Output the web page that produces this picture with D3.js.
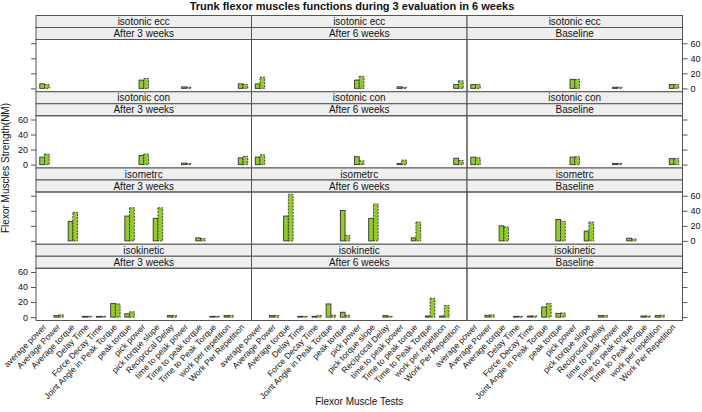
<!DOCTYPE html>
<html>
<head>
<meta charset="utf-8">
<script src="https://cdn.jsdelivr.net/npm/d3@7"></script>
<style>
  body { margin: 0; background: #fff; }
  text { font-family: "Liberation Sans", Arial, sans-serif; fill: #111; }
</style>
</head>
<body>
<div id="chart"></div>
<script>
const CATEGORIES = [
  "average power",
  "Average Power",
  "Average torque",
  "Delay Time",
  "Force Decay Time",
  "Joint Angle in Peak Torque",
  "peak torque",
  "pick power",
  "pick torque slope",
  "Reciprocal Delay",
  "time to peak power",
  "Time to peak torque",
  "Time to Peak Torque",
  "work per repetition",
  "Work Per Repetition",
];
const MEASURES = ["isotonic ecc", "isotonic con", "isometrc", "isokinetic"];
const TIMES = ["After 3 weeks", "After 6 weeks", "Baseline"];
const GROUPS = ["first", "second"];
const Y_TICKS = [0, 20, 40, 60];

// [test, first group, second group]
const eccAfter3 = [["average power", 6, 5], ["pick power", 11, 13], ["time to peak power", 2, 1.5], ["Work Per Repetition", 6, 5]];
const eccAfter6 = [["average power", 6, 15], ["pick power", 11, 16], ["time to peak power", 2, 1.5], ["Work Per Repetition", 5, 10]];
const eccBaseline = [["average power", 5, 5], ["pick power", 12, 12], ["time to peak power", 1.5, 1.5], ["Work Per Repetition", 5, 5]];

const conAfter3 = [["average power", 10, 14], ["pick power", 12, 14], ["time to peak power", 2, 1.5], ["Work Per Repetition", 9, 11]];
const conAfter6 = [["average power", 10, 13], ["pick power", 10.5, 5], ["time to peak power", 1.5, 6], ["Work Per Repetition", 8.5, 5.5]];
const conBaseline = [["average power", 10, 9], ["pick power", 10, 10.5], ["time to peak power", 1.5, 1.5], ["Work Per Repetition", 8, 8]];

const isoAfter3 = [["Average torque", 26, 38], ["peak torque", 33, 44], ["pick torque slope", 30, 44], ["Time to peak torque", 4, 3]];
const isoAfter6 = [["Average torque", 33, 62], ["peak torque", 40.5, 7], ["pick torque slope", 30, 49], ["Time to peak torque", 4, 25]];
const isoBaseline = [["Average torque", 20, 18.5], ["peak torque", 28.5, 26], ["pick torque slope", 13, 25], ["Time to peak torque", 3.5, 2.5]];

const kinAfter3 = [["Average Power", 2, 3], ["Delay Time", 1, 1], ["Force Decay Time", 1, 1], ["Joint Angle in Peak Torque", 18, 17.5], ["peak torque", 4.5, 7], ["Reciprocal Delay", 2, 2], ["Time to Peak Torque", 1, 1], ["work per repetition", 2, 2]];
const kinAfter6 = [["Average Power", 2, 2], ["Delay Time", 1, 1], ["Force Decay Time", 1, 2], ["Joint Angle in Peak Torque", 17.5, 2.5], ["peak torque", 6.5, 2.5], ["Reciprocal Delay", 2, 1], ["Time to Peak Torque", 1.5, 25], ["work per repetition", 1.5, 15.5]];
const kinBaseline = [["Average Power", 2.5, 3], ["Delay Time", 1, 1], ["Force Decay Time", 1.5, 1.5], ["Joint Angle in Peak Torque", 13.5, 18], ["peak torque", 5, 5.5], ["Reciprocal Delay", 2, 2], ["Time to Peak Torque", 1.5, 1.5], ["work per repetition", 2, 2.5]];

const panelData = {
  "isotonic ecc": [eccAfter3, eccAfter6, eccBaseline],
  "isotonic con": [conAfter3, conAfter6, conBaseline],
  "isometrc": [isoAfter3, isoAfter6, isoBaseline],
  "isokinetic": [kinAfter3, kinAfter6, kinBaseline],
};

const width = 702, height = 412;
const margin = { top: 15.5, left: 36, right: 19.5, bottom: 91.5 };
const stripH = 12;
const fill = "#92cb2a";
const lineCol = "#555";

const svg = d3
  .select("#chart")
  .append("svg")
  .attr("width", width)
  .attr("height", height);

svg.append("rect").attr("width", width).attr("height", height).attr("fill", "#fff");

const colScale = d3
  .scaleBand()
  .domain(TIMES)
  .range([margin.left, width - margin.right]);
const rowScale = d3
  .scaleBand()
  .domain(MEASURES)
  .range([margin.top, height - margin.bottom]);

// title
svg
  .append("text")
  .attr("x", 352)
  .attr("y", 9.5)
  .attr("text-anchor", "middle")
  .style("font-size", "11px")
  .style("font-weight", "bold")
  .text("Trunk flexor muscles functions during 3 evaluation in 6 weeks");

MEASURES.forEach((measure, r) => {
  const rowTop = rowScale(measure);
  const panelTop = rowTop + 2 * stripH;
  const panelBottom = rowTop + rowScale.bandwidth();

  const y = d3.scaleLinear().domain([-4.5, 65]).range([panelBottom, panelTop]);

  TIMES.forEach((time, c) => {
    const x0 = colScale(time);
    const x = d3
      .scaleBand()
      .domain(CATEGORIES)
      .range([x0, x0 + colScale.bandwidth()])
      .paddingInner(1 / 3)
      .paddingOuter(0.1 + 1 / 6);
    const xg = d3.scaleBand().domain(GROUPS).range([0, x.bandwidth()]);

    const g = svg.append("g");

    // strips
    [measure, time].forEach((label, i) => {
      g.append("rect")
        .attr("x", x0)
        .attr("y", rowTop + i * stripH)
        .attr("width", colScale.bandwidth())
        .attr("height", stripH)
        .attr("fill", "#efefef")
        .attr("stroke", lineCol)
        .attr("stroke-width", 1);
      g.append("text")
        .attr("x", x0 + colScale.bandwidth() / 2)
        .attr("y", rowTop + i * stripH + stripH / 2)
        .attr("dy", "0.36em")
        .attr("text-anchor", "middle")
        .style("font-size", "10px")
        .text(label);
    });

    // bars
    const rows = panelData[measure][c];
    GROUPS.forEach((grp, gi) => {
      g.selectAll(".bar-" + grp)
        .data(rows)
        .join("rect")
        .attr("class", "bar-" + grp)
        .attr("x", (d) => x(d[0]) + xg(grp))
        .attr("y", (d) => y(d[gi + 1]))
        .attr("width", xg.bandwidth())
        .attr("height", (d) => y(0) - y(d[gi + 1]))
        .attr("fill", fill)
        .attr("stroke", "#333")
        .attr("stroke-width", 0.9)
        .attr("stroke-dasharray", gi === 1 ? "2,1.2" : null);
    });

    // panel border
    g.append("rect")
      .attr("x", x0)
      .attr("y", panelTop)
      .attr("width", colScale.bandwidth())
      .attr("height", panelBottom - panelTop)
      .attr("fill", "none")
      .attr("stroke", lineCol)
      .attr("stroke-width", 1);

    // bottom labels only under the last row
    if (r === MEASURES.length - 1) {
      const xAxis = d3.axisBottom(x).tickSize(0).tickPadding(0);
      const ax = svg
        .append("g")
        .attr("transform", `translate(0, ${panelBottom})`)
        .call(xAxis);
      ax.select(".domain").remove();
      ax.selectAll("text")
        .attr("y", 0)
        .attr("dy", "0.35em")
        .attr("transform", "translate(0, 5) rotate(-46)")
        .style("text-anchor", "end")
        .style("font-size", "8.5px")
        .style("font-family", "Liberation Sans, Arial, sans-serif")
        .attr("fill", "#111");
    }
  });

  // y axes alternate sides, like lattice
  const labelsLeft = r % 2 === 1;
  const leftAxis = d3
    .axisLeft(y)
    .tickValues(Y_TICKS)
    .tickSize(5)
    .tickPadding(3)
    .tickFormat(labelsLeft ? d3.format("d") : () => "");
  const rightAxis = d3
    .axisRight(y)
    .tickValues(Y_TICKS)
    .tickSize(5)
    .tickPadding(3)
    .tickFormat(labelsLeft ? () => "" : d3.format("d"));

  [
    [leftAxis, margin.left],
    [rightAxis, width - margin.right],
  ].forEach(([axis, xPos]) => {
    const ax = svg
      .append("g")
      .attr("transform", `translate(${xPos}, 0)`)
      .call(axis);
    ax.select(".domain").remove();
    ax.selectAll("line").attr("stroke", lineCol);
    ax.selectAll("text")
      .style("font-size", "9px")
      .style("font-family", "Liberation Sans, Arial, sans-serif")
      .attr("fill", "#222");
  });
});

// axis titles
svg
  .append("text")
  .attr("x", (margin.left + width - margin.right) / 2)
  .attr("y", 405)
  .attr("text-anchor", "middle")
  .style("font-size", "10px")
  .text("Flexor Muscle Tests");

svg
  .append("text")
  .attr("transform", `translate(8.5, ${(margin.top + height - margin.bottom) / 2}) rotate(-90)`)
  .attr("text-anchor", "middle")
  .style("font-size", "10px")
  .text("Flexor Muscles Strength(NM)");
</script>
</body>
</html>
